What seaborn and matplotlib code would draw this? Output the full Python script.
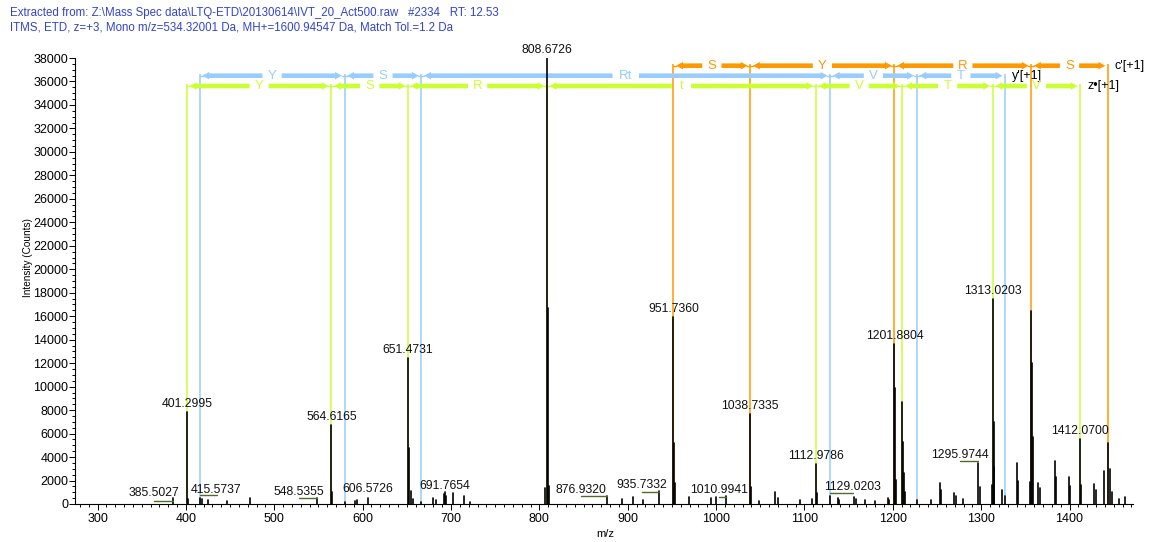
import matplotlib
matplotlib.use('Agg')
import matplotlib.pyplot as plt
from matplotlib.patches import FancyArrow
from matplotlib.ticker import MultipleLocator
import numpy as np
import pandas as pd
import seaborn as sns

# spectrum peaks (m/z, intensity)
peak_mz = [385.50, 401.30, 402.30, 415.57, 418.50, 425.50, 446.50, 472.50, 548.54, 564.62,
           565.62, 579.50, 591.50, 594.00, 606.57, 651.47, 652.47, 654.50, 657.50, 666.50,
           679.50, 683.00, 691.77, 692.80, 694.80, 702.30, 714.30, 722.00, 806.80, 808.67,
           809.67, 810.70, 876.93, 894.00, 906.00, 917.50, 935.73, 951.74, 952.74, 953.74,
           969.50, 994.50, 999.50, 1010.99, 1038.73, 1039.73, 1049.00, 1067.00, 1069.50, 1095.00,
           1109.00, 1112.98, 1113.98, 1129.02, 1137.50, 1139.50, 1156.50, 1158.50, 1169.00, 1180.00,
           1194.50, 1196.00, 1201.88, 1202.88, 1203.88, 1210.90, 1211.90, 1212.90, 1213.90, 1227.00,
           1243.00, 1253.30, 1255.00, 1269.00, 1271.00, 1279.00, 1295.97, 1299.00, 1312.00, 1313.02,
           1314.02, 1315.02, 1323.60, 1327.00, 1340.50, 1342.00, 1355.50, 1356.70, 1357.70, 1358.70,
           1364.30, 1366.60, 1383.10, 1384.30, 1399.00, 1401.00, 1412.07, 1413.07, 1428.20, 1429.70,
           1439.50, 1443.30, 1445.50, 1448.00, 1456.00, 1462.80]
peak_int = [500, 7860, 400, 540, 400, 300, 250, 500, 500, 6730,
            1050, 200, 250, 300, 480, 12440, 4740, 1100, 400, 200,
            480, 300, 830, 1000, 650, 940, 650, 200, 1360, 38000,
            16700, 1500, 710, 450, 570, 300, 1080, 15930, 5200, 1790,
            600, 500, 600, 680, 7670, 1480, 250, 1000, 500, 300,
            400, 3410, 910, 680, 500, 350, 570, 400, 300, 250,
            510, 300, 13630, 9860, 2040, 8720, 5310, 2610, 1000, 340,
            300, 1820, 1200, 970, 700, 400, 3470, 1480, 1600, 17440,
            7010, 3180, 1190, 700, 3470, 2000, 1900, 16440, 11990, 5740,
            1760, 1340, 3660, 2300, 2300, 1500, 5510, 1600, 1700, 1200,
            2840, 5230, 3000, 1000, 400, 600]

peak_labels = ['385.5027', '401.2995', '415.5737', '548.5355', '564.6165', '606.5726',
               '651.4731', '691.7654', '808.6726', '876.9320', '935.7332', '951.7360',
               '1010.9941', '1038.7335', '1112.9786', '1129.0203', '1201.8804',
               '1295.9744', '1313.0203', '1412.0700']

# matched fragment ladders
c_mz = [951.74, 1038.73, 1201.88, 1356.70, 1443.30]
c_res = ['S', 'Y', 'R', 'S']
y_mz = [415.57, 579.50, 666.50, 1129.02, 1227.00, 1327.00]
y_res = ['Y', 'S', 'Rt', 'V', 'T']
z_mz = [401.30, 564.62, 651.47, 808.67, 1112.98, 1210.90, 1313.02, 1412.07]
z_res = ['Y', 'S', 'R', 't', 'V', 'T', 'V']

title1 = 'Extracted from: Z:\\Mass Spec data\\LTQ-ETD\\20130614\\IVT_20_Act500.raw   #2334   RT: 12.53'
title2 = 'ITMS, ETD, z=+3, Mono m/z=534.32001 Da, MH+=1600.94547 Da, Match Tol.=1.2 Da'

# layout ------------------------------------------------------------
W, H = 1171, 542
PX = 1 / 0.8837          # m/z per pixel
PY = 38000 / 446         # counts per pixel

# labels that sit beside their peak: (x m/z, y counts, leader y or None)
moved = {
    '385.5027': (364.0, 895, 255),
    '415.5737': (434.7, 1235, 767),
    '548.5355': (527.5, 1065, 540),
    '606.5726': (605.5, 1280, None),
    '691.7654': (693.2, 1530, None),
    '876.9320': (847.1, 1235, 707),
    '935.7332': (916.2, 1620, 1050),
    '1010.9941': (1003.2, 1235, 620),
    '1129.0203': (1154.9, 1450, 910),
    '1295.9744': (1276.0, 4200, 3660),
}

sns.set_theme(style='ticks')
plt.rcParams['font.family'] = ['Liberation Sans', 'DejaVu Sans']

fig = plt.figure(figsize=(W / 100, H / 100), dpi=100)
ax = fig.add_axes([75 / W, 38 / H, 1058 / W, 446 / H])

stems = pd.DataFrame({
    'peak': np.repeat(np.arange(len(peak_mz)), 2),
    'mz': np.repeat(peak_mz, 2),
    'intensity': np.ravel(np.column_stack([np.zeros(len(peak_int)), peak_int])),
})

pk_mz = np.array(peak_mz)
pk_int = np.array(peak_int)

c_col, y_col, z_col = '#FF9900', '#99CCFF', '#CCFF33'
ladders = [(c_mz, c_res, 37344, c_col, "c'[+1]"),
           (y_mz, y_res, 36492, y_col, "y'[+1]"),
           (z_mz, z_res, 35614, z_col, 'z\u2022[+1]')]

for ions, res, ly, col, name in ladders:
    ax.vlines(ions, 0, ly + 2 * PY, color=col, lw=1.1, zorder=1)
    # short joints where the arrows meet each matched ion
    for k, v in enumerate(ions):
        lo = v if k == len(ions) - 1 else v - 3 * PX
        lo = v if k == 0 else lo
        hi = v if k == len(ions) - 1 else v + 3 * PX
        ax.plot([lo, hi], [ly, ly], color=col, lw=1, zorder=2)
    for a, b, s in zip(ions[:-1], ions[1:], res):
        mid = (a + b) / 2
        half = (3.6 * len(s) + 6) * PX
        for start, end in ((mid - half, a + 2.5 * PX), (mid + half, b - 2.5 * PX)):
            ax.add_patch(FancyArrow(start, ly, end - start, 0, width=4.6 * PY,
                                    head_width=7.5 * PY, head_length=7 * PX,
                                    length_includes_head=True, color=col, lw=0, zorder=2))
        ax.text(mid, ly, s, color=col, ha='center', va='center', fontsize=9.5, zorder=4)
    ax.text(ions[-1] + 7 * PX, ly, name, color='black', ha='left', va='center',
            fontsize=9, zorder=4, clip_on=False)

sns.lineplot(data=stems, x='mz', y='intensity', units='peak', estimator=None, sort=False,
             color='black', lw=1.2, ax=ax, legend=False, zorder=3)

for txt in peak_labels:
    mz = float(txt)
    top = pk_int[np.argmin(np.abs(pk_mz - mz))]
    if txt in moved:
        lx, lyy, lead = moved[txt]
        ax.text(lx, lyy, txt, ha='center', va='center', fontsize=8.8, color='#111111',
                zorder=5, clip_on=False)
        if lead is not None:
            ax.plot([lx, mz], [lead, lead], color='#4F6B2A', lw=1, zorder=4)
    else:
        ax.text(mz, top + 8 * PY, txt, ha='center', va='center', fontsize=8.8,
                color='#111111', zorder=5, clip_on=False)

ax.set_xlim(274.5, 1471.8)
ax.set_ylim(0, 38000)
ax.xaxis.set_major_locator(MultipleLocator(100))
ax.xaxis.set_minor_locator(MultipleLocator(10))
ax.yaxis.set_major_locator(MultipleLocator(2000))
ax.yaxis.set_minor_locator(MultipleLocator(500))
ax.tick_params(which='major', direction='out', length=4.3, width=0.7, labelsize=9,
               colors='black')
ax.tick_params(which='minor', direction='out', length=2, width=0.7, colors='black')
ax.tick_params(axis='y', which='major', pad=0.5)
ax.tick_params(axis='x', which='major', pad=2)
ax.set_xlabel('')
ax.set_ylabel('')
sns.despine(ax=ax)
for sp in ('left', 'bottom'):
    ax.spines[sp].set_color('black')
    ax.spines[sp].set_linewidth(0.8)
ax.set_facecolor('white')
fig.patch.set_facecolor('white')

fig.text(605 / W, 1 - 534 / H, 'm/z', ha='center', va='center', fontsize=8, color='black')
fig.text(28 / W, 1 - 258 / H, 'Intensity (Counts)', rotation=90, ha='center', va='center',
         fontsize=7.2, color='black')
fig.text(10 / W, 1 - 13 / H, title1, ha='left', va='center', fontsize=8.3, color='#3344CC')
fig.text(10 / W, 1 - 28 / H, title2, ha='left', va='center', fontsize=8.3, color='#3344CC')

fig.savefig('out.png', dpi=100)
